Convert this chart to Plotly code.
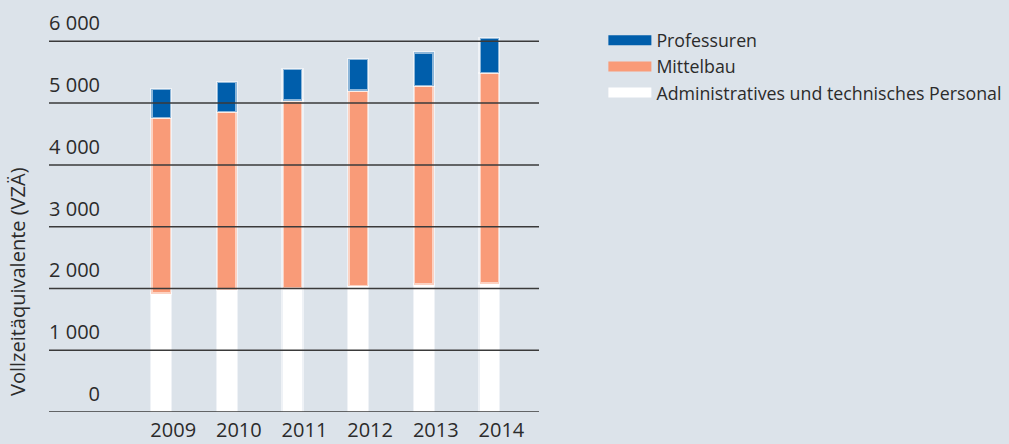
import plotly.graph_objects as go

years = ["2009", "2010", "2011", "2012", "2013", "2014"]
admin = [1915, 1975, 2000, 2040, 2060, 2080]
mittelbau = [2840, 2880, 3040, 3160, 3215, 3405]
professuren = [475, 490, 510, 510, 545, 570]

y_ticks = [0, 1000, 2000, 3000, 4000, 5000, 6000]
y_tick_text = ["0", "1 000", "2 000", "3 000", "4 000", "5 000", "6 000"]

BG = "#DCE3EA"
BLUE = "#005EAB"
ORANGE = "#F99B78"
WHITE = "#FFFFFF"
TEXT = "#2B2B2B"
FONT = "Open Sans"

series = [
    ("Administratives und technisches Personal", admin, WHITE),
    ("Mittelbau", mittelbau, ORANGE),
    ("Professuren", professuren, BLUE),
]

fig = go.Figure()
for name, vals, color in series:
    fig.add_trace(go.Bar(
        x=years, y=vals, name=name,
        marker=dict(color=color, line=dict(color="rgba(255,255,255,0.55)", width=2.5)),
        width=0.3, showlegend=False, hoverinfo="skip",
    ))

# legend entries drawn as wide strokes (top-down order as in the original)
for name, vals, color in reversed(series):
    fig.add_trace(go.Scatter(
        x=[None], y=[None], mode="lines", name=name,
        line=dict(color=color, width=10),
    ))

# horizontal rules sit on top of the bars
for v in y_ticks:
    fig.add_shape(type="line", xref="paper", yref="y", x0=0, x1=1, y0=v, y1=v,
                  line=dict(color="#3A3A3A", width=1.5), layer="above")

fig.add_annotation(
    text="Vollzeitäquivalente (VZÄ)", textangle=-90, showarrow=False,
    xref="paper", yref="paper", x=-0.063, y=0.332,
    xanchor="center", yanchor="middle",
    font=dict(family=FONT, size=20, color=TEXT),
)

fig.update_layout(
    width=1009, height=444,
    paper_bgcolor=BG, plot_bgcolor=BG,
    margin=dict(l=49, r=470, t=20, b=32),
    barmode="stack",
    font=dict(family=FONT, color=TEXT),
    legend=dict(
        xref="container", yref="container",
        x=0.598, y=0.95, xanchor="left", yanchor="top",
        font=dict(family=FONT, size=17.8, color=TEXT),
        itemwidth=43, traceorder="normal", bgcolor="rgba(0,0,0,0)",
    ),
)
fig.update_xaxes(
    range=[-1.71, 5.756], showgrid=False, showline=False, ticks="",
    tickfont=dict(family=FONT, size=20, color=TEXT),
    ticklabelstandoff=4, ticklabelshift=12, automargin=False,
)
fig.update_yaxes(
    range=[0, 6345], showgrid=False, zeroline=False, showline=False, ticks="",
    tickvals=y_ticks, ticktext=y_tick_text,
    tickfont=dict(family=FONT, size=20, color=TEXT),
    ticklabelshift=-18, ticklabelstandoff=-52, automargin=False,
)

fig.write_html(
    "out.html",
    config={"displayModeBar": False},
    post_script="document.body.style.margin='0';",
)
